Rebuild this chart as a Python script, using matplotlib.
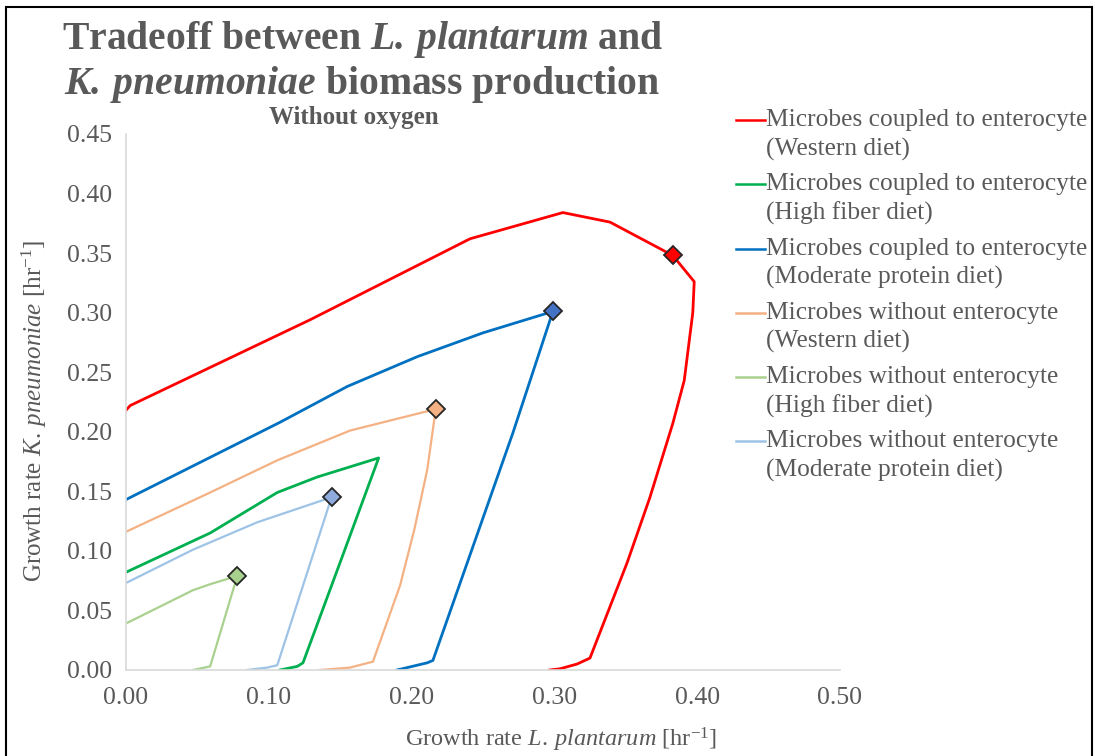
import matplotlib
matplotlib.use("Agg")
import matplotlib.pyplot as plt
from matplotlib.lines import Line2D
from matplotlib.patches import Rectangle

plt.rcParams['font.family'] = ['Liberation Serif', 'DejaVu Serif']
plt.rcParams['mathtext.fontset'] = 'custom'
plt.rcParams['mathtext.rm'] = 'Liberation Serif'
plt.rcParams['mathtext.it'] = 'Liberation Serif:italic'
plt.rcParams['mathtext.bf'] = 'Liberation Serif:bold'
plt.rcParams['mathtext.bfit'] = 'Liberation Serif:bold:italic'

GRAY = '#595959'

# curves: growth rate L. plantarum (x) vs K. pneumoniae (y)
red_x = [0.0, 0.003, 0.129, 0.241, 0.306, 0.339, 0.383, 0.398, 0.397, 0.391, 0.383, 0.367, 0.351, 0.325, 0.316, 0.304, 0.297]
red_y = [0.218, 0.222, 0.294, 0.362, 0.384, 0.376, 0.348, 0.326, 0.300, 0.243, 0.207, 0.145, 0.090, 0.010, 0.005, 0.001, 0.0]

green_x = [0.0, 0.059, 0.106, 0.134, 0.177, 0.149, 0.124, 0.120, 0.108]
green_y = [0.082, 0.115, 0.149, 0.162, 0.178, 0.087, 0.006, 0.003, 0.0]

blue_x = [0.0, 0.108, 0.155, 0.204, 0.250, 0.299, 0.271, 0.215, 0.211, 0.190]
blue_y = [0.143, 0.208, 0.238, 0.263, 0.283, 0.301, 0.199, 0.008, 0.006, 0.0]

orange_x = [0.0, 0.059, 0.106, 0.157, 0.217, 0.211, 0.202, 0.192, 0.173, 0.157, 0.136]
orange_y = [0.116, 0.149, 0.176, 0.201, 0.219, 0.168, 0.118, 0.071, 0.007, 0.002, 0.0]

lgreen_x = [0.0, 0.047, 0.059, 0.078, 0.059, 0.047]
lgreen_y = [0.039, 0.067, 0.072, 0.079, 0.003, 0.0]

lblue_x = [0.0, 0.047, 0.092, 0.144, 0.106, 0.099, 0.085]
lblue_y = [0.073, 0.101, 0.124, 0.145, 0.004, 0.002, 0.0]

# optimum points marked with diamonds
opt_x = [0.383, 0.299, 0.217, 0.078, 0.144]
opt_y = [0.348, 0.301, 0.219, 0.079, 0.145]
opt_colors = ['#FF0000', '#4472C4', '#F4B183', '#A9D18E', '#8FAADC']

labels = ['Microbes coupled to enterocyte\n(Western diet)',
          'Microbes coupled to enterocyte\n(High fiber diet)',
          'Microbes coupled to enterocyte\n(Moderate protein diet)',
          'Microbes without enterocyte\n(Western diet)',
          'Microbes without enterocyte\n(High fiber diet)',
          'Microbes without enterocyte\n(Moderate protein diet)']
colors = ['#FF0000', '#00B050', '#0070C0', '#F4B183', '#A9D18E', '#9DC3E6']
widths = [2.0, 2.0, 2.0, 1.6, 1.6, 1.6]

series = [(red_x, red_y), (green_x, green_y), (blue_x, blue_y),
          (orange_x, orange_y), (lgreen_x, lgreen_y), (lblue_x, lblue_y)]

fig = plt.figure(figsize=(10.95, 7.56), dpi=100)
ax = fig.add_axes([0.115, 0.1138, 0.652, 0.709])

for (xs, ys), c, w in zip(series, colors, widths):
    ax.plot(xs, ys, color=c, lw=w, solid_joinstyle='round', zorder=2)

for x, y, c in zip(opt_x, opt_y, opt_colors):
    ax.plot(x, y, marker='D', ms=9, mfc=c, mec='#262626', mew=1.3, zorder=3)

ax.set_xlim(0, 0.5)
ax.set_ylim(0, 0.45)
ax.set_xticks([0.0, 0.1, 0.2, 0.3, 0.4, 0.5])
ax.set_yticks([0.0, 0.05, 0.1, 0.15, 0.2, 0.25, 0.3, 0.35, 0.4, 0.45])
ax.xaxis.set_major_formatter(matplotlib.ticker.FormatStrFormatter('%.2f'))
ax.yaxis.set_major_formatter(matplotlib.ticker.FormatStrFormatter('%.2f'))
ax.tick_params(length=0, labelsize=18.5, labelcolor=GRAY, pad=10)
ax.tick_params(axis='x', pad=12)
for s in ['top', 'right']:
    ax.spines[s].set_visible(False)
for s in ['left', 'bottom']:
    ax.spines[s].set_color('#D9D9D9')
    ax.spines[s].set_linewidth(1.2)

ax.set_xlabel(r'Growth rate $\mathit{L.\:plantarum}$ [hr$^{-1}$]', fontsize=17.5, color=GRAY)
ax.xaxis.set_label_coords((561 - 126) / 714, -0.105)
ax.set_ylabel(r'Growth rate $\mathit{K.\:pneumoniae}$ [hr$^{-1}$]', fontsize=18, color=GRAY)
ax.yaxis.set_label_coords(-0.108, (670 - 411) / 536)

fig.text(0.331, 0.935, r'Tradeoff between $\mathbfit{L.\:plantarum}$ and', fontsize=28.5, fontweight='bold',
         color=GRAY, ha='center', va='baseline')
fig.text(0.331, 0.876, r'$\mathbfit{K.\:pneumoniae}$ biomass production', fontsize=28.5, fontweight='bold',
         color=GRAY, ha='center', va='baseline')
fig.text(0.323, 0.836, 'Without oxygen', fontsize=18, fontweight='bold', color=GRAY, ha='center', va='baseline')

# legend drawn by hand so the line sits on the first row like the original
for i, (lab, c) in enumerate(zip(labels, colors)):
    ytop = 1 - (120 + 64.3 * i) / 756
    fig.add_artist(Line2D([736 / 1095, 765 / 1095], [ytop, ytop], color=c, lw=1.8))
    first, second = lab.split('\n')
    fig.text(766 / 1095, ytop, first, fontsize=18.3, color=GRAY, va='center', ha='left')
    fig.text(766 / 1095, ytop - 29 / 756, second, fontsize=18.3, color=GRAY, va='center', ha='left')

fig.add_artist(Rectangle((6 / 1095, -0.05), 1086 / 1095, 1.05 - 7 / 756, transform=fig.transFigure,
                         fill=False, edgecolor='black', lw=1.5))

fig.savefig('out.png', dpi=100)
